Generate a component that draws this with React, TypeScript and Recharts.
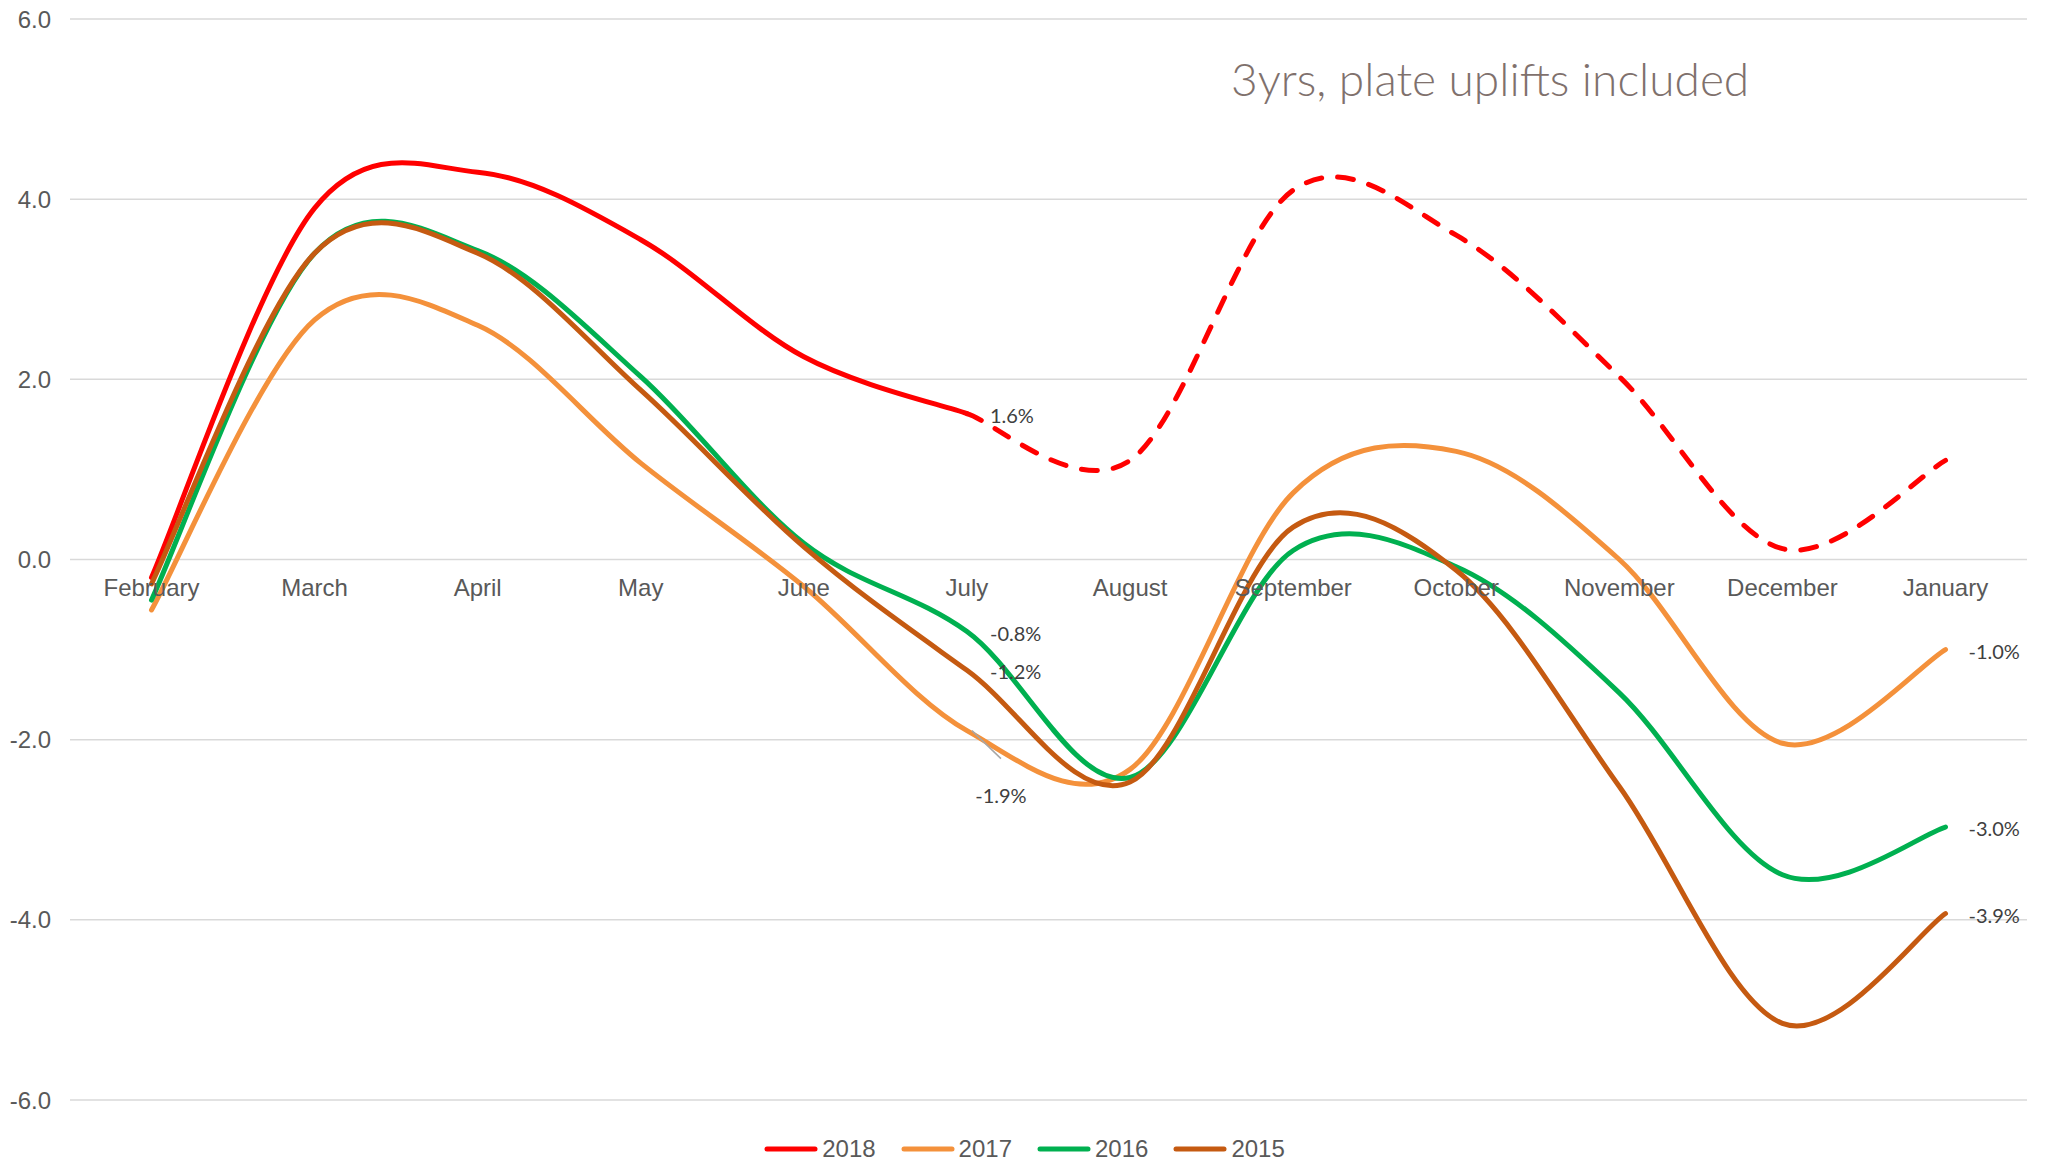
import React from 'react'
import { LineChart, Line, XAxis, YAxis, CartesianGrid, ReferenceDot, Legend } from 'recharts'

const months = [
  'February', 'March', 'April', 'May', 'June', 'July',
  'August', 'September', 'October', 'November', 'December', 'January',
]
const y2018 = [-0.2, 3.9, 4.3, 3.55, 2.25, 1.62, null, null, null, null, null, null]
const y2018Outlook = [null, null, null, null, null, 1.62, 1.1, 4.1, 3.6, 2.03, 0.12, 1.1]
const y2017 = [-0.56, 2.66, 2.6, 1.07, -0.3, -1.9, -2.33, 0.74, 1.2, 0.0, -2.04, -1.0]
const y2016 = [-0.45, 3.4, 3.43, 2.03, 0.18, -0.8, -2.42, 0.1, -0.08, -1.48, -3.5, -2.97]
const y2015 = [-0.27, 3.4, 3.4, 1.88, 0.14, -1.23, -2.47, 0.36, -0.12, -2.52, -5.15, -3.93]
const yTicks = [-6, -4, -2, 0, 2, 4, 6]

const RED = '#ff0000'
const ORANGE = '#f4913b'
const GREEN = '#00b050'
const BROWN = '#c55a11'
const AXIS_FONT = '"Liberation Sans", Arial, sans-serif'
const LABEL_FONT = 'Lato, "Open Sans", sans-serif'

const data = months.map((month, i) => ({
  month,
  y2018: y2018[i],
  y2018Outlook: y2018Outlook[i],
  y2017: y2017[i],
  y2016: y2016[i],
  y2015: y2015[i],
}))

const legendItems = [
  { name: '2018', color: RED },
  { name: '2017', color: ORANGE },
  { name: '2016', color: GREEN },
  { name: '2015', color: BROWN },
]

// value labels: at July for every year, at January for the three complete years
const pointLabels = [
  { month: 'July', value: y2018[5] as number, leader: false },
  { month: 'July', value: y2016[5], leader: false },
  { month: 'July', value: y2015[5], leader: false },
  { month: 'July', value: y2017[5], leader: true },
  { month: 'January', value: y2017[11], leader: false },
  { month: 'January', value: y2016[11], leader: false },
  { month: 'January', value: y2015[11], leader: false },
]

// Excel-like smoothed line (Catmull-Rom through the points)
function smoothCurve(context: any) {
  let pts: number[][] = []
  return {
    areaStart() {},
    areaEnd() {},
    lineStart() {
      pts = []
    },
    lineEnd() {
      const n = pts.length
      if (!n) return
      context.moveTo(pts[0][0], pts[0][1])
      for (let i = 0; i < n - 1; i++) {
        const p0 = pts[Math.max(i - 1, 0)]
        const p1 = pts[i]
        const p2 = pts[i + 1]
        const p3 = pts[Math.min(i + 2, n - 1)]
        context.bezierCurveTo(
          p1[0] + (p2[0] - p0[0]) / 6,
          p1[1] + (p2[1] - p0[1]) / 6,
          p2[0] - (p3[0] - p1[0]) / 6,
          p2[1] - (p3[1] - p1[1]) / 6,
          p2[0],
          p2[1],
        )
      }
    },
    point(x: number, y: number) {
      pts.push([+x, +y])
    },
  }
}

function ValueLabel(props: any) {
  const { viewBox, text, leader } = props
  if (!viewBox) return null
  const x = viewBox.x + (viewBox.width || 0) / 2
  const y = viewBox.y + (viewBox.height || 0) / 2
  if (leader) {
    return (
      <g>
        <line x1={x + 5} y1={y} x2={x + 34} y2={y + 28} stroke="#a6a6a6" strokeWidth={1.5} />
        <text x={x + 34} y={y + 64} textAnchor="middle" dominantBaseline="central"
          fontFamily={LABEL_FONT} fontSize={20} fill="#404040">{text}</text>
      </g>
    )
  }
  return (
    <text x={x + 23} y={y + 1} textAnchor="start" dominantBaseline="central"
      fontFamily={LABEL_FONT} fontSize={20} fill="#404040">{text}</text>
  )
}

function LegendRow() {
  return (
    <div style={{
      display: 'flex', justifyContent: 'center', alignItems: 'center', height: 28,
      fontFamily: AXIS_FONT, fontSize: 24, color: '#595959',
    }}>
      {legendItems.map((it, i) => (
        <div key={it.name} style={{ display: 'flex', alignItems: 'center', marginLeft: i ? 25 : 0 }}>
          <svg width={54} height={6}>
            <line x1={3} y1={3} x2={51} y2={3} stroke={it.color} strokeWidth={5} strokeLinecap="round" />
          </svg>
          <span style={{ marginLeft: 4 }}>{it.name}</span>
        </div>
      ))}
    </div>
  )
}

export default function App() {
  return (
    <div style={{ position: 'absolute', left: 0, top: 0, width: 2049, height: 1163, background: '#fff' }}>
      <LineChart width={2049} height={1163} data={data}
        margin={{ top: 19, right: 22, bottom: 35, left: 0 }}>
        <CartesianGrid vertical={false} stroke="#d9d9d9" strokeWidth={1.5} />
        <XAxis dataKey="month" hide padding={{ left: 81.5, right: 81.5 }} />
        <YAxis width={70} domain={[-6, 6]} ticks={yTicks} axisLine={false} tickLine={false}
          tickMargin={13} tickFormatter={(v: number) => v.toFixed(1)}
          tick={{ fill: '#595959', fontSize: 24, fontFamily: AXIS_FONT }} />
        {months.map((m) => (
          <ReferenceDot key={m} x={m} y={0} r={0} fill="none" stroke="none"
            label={{ value: m, position: 'bottom', offset: 19, fill: '#595959', fontSize: 24, fontFamily: AXIS_FONT }} />
        ))}
        <Line dataKey="y2018" stroke={RED} strokeWidth={5} strokeLinecap="round" type={smoothCurve as any}
          dot={false} activeDot={false} isAnimationActive={false} />
        <Line dataKey="y2018Outlook" stroke={RED} strokeWidth={5} strokeLinecap="round" strokeDasharray="16 16"
          type={smoothCurve as any} dot={false} activeDot={false} isAnimationActive={false} legendType="none" />
        <Line dataKey="y2017" stroke={ORANGE} strokeWidth={5} strokeLinecap="round" type={smoothCurve as any}
          dot={false} activeDot={false} isAnimationActive={false} />
        <Line dataKey="y2016" stroke={GREEN} strokeWidth={5} strokeLinecap="round" type={smoothCurve as any}
          dot={false} activeDot={false} isAnimationActive={false} />
        <Line dataKey="y2015" stroke={BROWN} strokeWidth={5} strokeLinecap="round" type={smoothCurve as any}
          dot={false} activeDot={false} isAnimationActive={false} />
        {pointLabels.map((p, i) => (
          <ReferenceDot key={`lbl-${i}`} x={p.month} y={p.value} r={0} fill="none" stroke="none"
            label={(lp: any) => <ValueLabel {...lp} text={`${p.value.toFixed(1)}%`} leader={p.leader} />} />
        ))}
        <Legend verticalAlign="bottom" content={() => <LegendRow />}
          wrapperStyle={{ left: 0, width: 2049, bottom: 0, height: 28 }} />
      </LineChart>
      <svg width={2049} height={1163} style={{ position: 'absolute', left: 0, top: 0, pointerEvents: 'none' }}>
        <text x={1231} y={96} fontFamily={LABEL_FONT} fontWeight={300} fontSize={46} fill="#7f716d">
          3yrs, plate uplifts included
        </text>
      </svg>
    </div>
  )
}
